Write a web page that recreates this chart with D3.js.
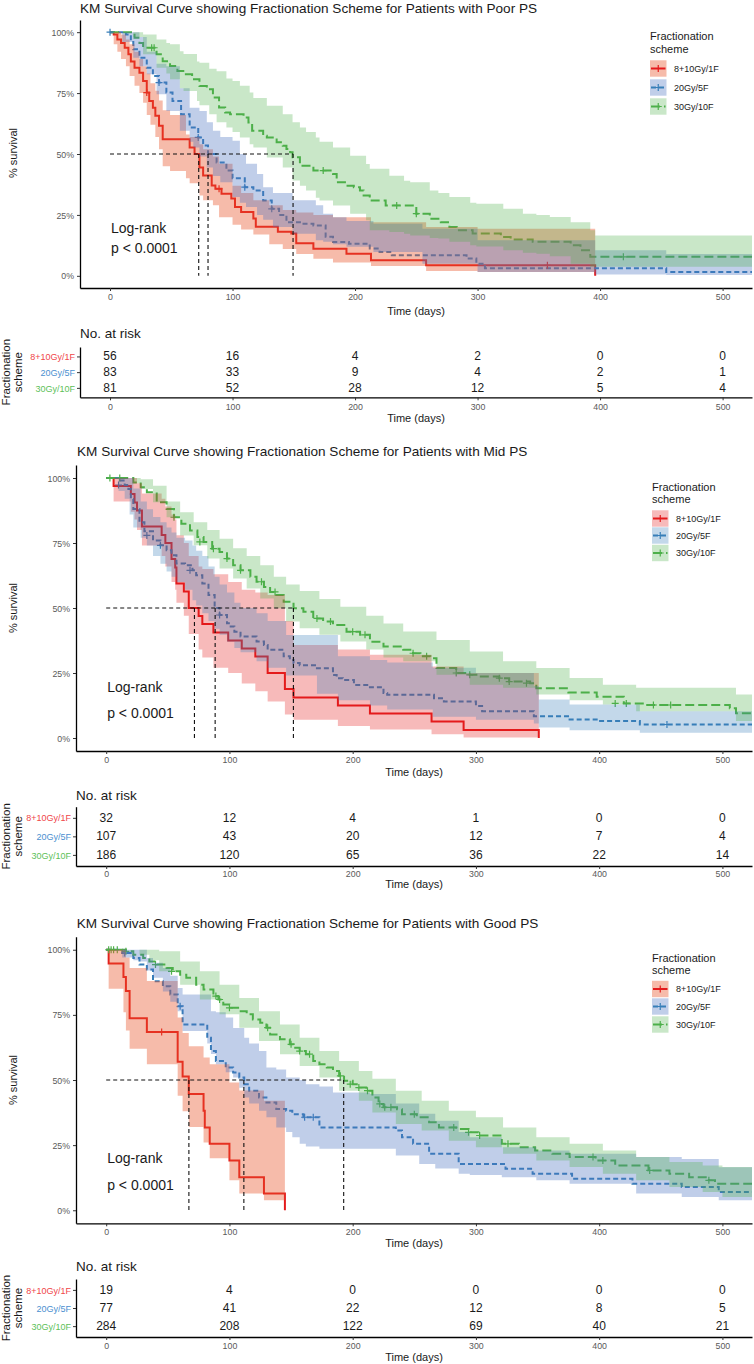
<!DOCTYPE html>
<html><head><meta charset="utf-8">
<script src="https://cdn.jsdelivr.net/npm/d3@7"></script>
<style>body{margin:0;background:#fff}svg{display:block;font-family:"Liberation Sans",Arial,sans-serif}</style>
</head><body><svg id="c" width="754" height="1364"></svg>
<script>
const groups = ["8+10Gy/1F", "20Gy/5F", "30Gy/10F"];
const timeTicks = [0, 100, 200, 300, 400, 500];
const survTicks = [0, 25, 50, 75, 100];
const titles = ["KM Survival Curve showing Fractionation Scheme for Patients with Poor PS",
  "KM Survival Curve showing Fractionation Scheme for Patients with Mid PS",
  "KM Survival Curve showing Fractionation Scheme for Patients with Good PS"];

// ---------- Poor PS ----------
const poorRed = [[0,100],[3,99],[6,97],[9,95.6],[12,93.6],[15,90.9],[17,88],[20,85.4],[24,83.4],[27,80],[30,75.2],[32,71.8],[35,69],[37,65.7],[40,61.6],[43,56.1],[65,52.7],[69,50],[73,44.5],[76,41.2],[83,37.1],[86,35.7],[91,33.7],[99,31.7],[102,28.2],[107,26.2],[117,23.5],[119,20.1],[137,18.1],[148,17.4],[152,13.4],[166,11.1],[193,9.1],[213,6.4],[258,4.3],[396,0]];
const poorRedCI = [[0,100,100],[3,95,100],[6,92,100],[9,89,99],[13,86,97],[16,82,95],[20,78,92],[24,75,89],[27,71,86],[30,66,83],[33,62,79],[37,57,76],[40,52,72],[43,45,68],[49,43,66],[62,40,58],[65,38,57],[73,33,54],[76,31,52],[84,29,49],[89,24,46],[100,21,37],[107,19,34],[117,17,31],[130,13,29],[141,11,27],[152,9,26],[166,7,25],[182,5.5,24],[213,4,22],[258,2,20],[300,1.6,19.3],[396,1.6,19.3]];
const poorRedCens = [[30,75.2],[89,35.7],[357,4.3]];
const poorBlue = [[0,100],[13,99],[17,96],[19,93],[24,89.5],[30,85.4],[35,82],[40,79.3],[46,75.2],[51,71.8],[58,66.3],[65,60.9],[72,56.8],[76,53.5],[80,50],[87,46.5],[95,43.2],[100,40],[110,36.4],[117,35],[125,30.9],[132,27.5],[138,25],[144,22],[155,21.4],[166,20.7],[176,16],[182,13.9],[195,13.2],[212,11.2],[220,9.8],[230,8.4],[291,7.1],[299,5],[306,3.1],[454,1.6],[530,1.6]];
const poorBlueCI = [[0,100,100],[10,96,100],[19,89.5,100],[24,86,98],[30,82.7,92],[38,74.5,87],[46,67.7,86],[57,59.5,77],[65,55,69],[68,52.7,69],[73,49,67.7],[79,44.5,63],[84,41,59.5],[90,38.4,57],[100,32.3,55.4],[106,30,50],[111,28.2,46],[120,25,41.8],[125,23,36.4],[133,20,34],[149,17.3,31],[168,14.6,29],[174,14,25.5],[182,13,24],[193,11.9,22.5],[215,9.8,21.4],[255,5,19.3],[300,1.6,14.6],[396,0.5,10.5],[454,0.3,9],[530,0.3,9]];
const poorBlueCens = [[0,100],[40,79.3],[72,56.8],[110,36.4],[132,27.5]];
const poorGreen = [[0,100],[20,97.7],[24,95.6],[27,93.6],[38,90.9],[43,88.1],[49,86.1],[55,84.1],[61,82.7],[67,80.7],[73,77.9],[79,76.6],[84,73.2],[89,69.1],[94,67],[98,66.3],[109,65],[113,62.9],[116,59.5],[125,57.5],[128,56.8],[136,54.8],[141,53.4],[144,52.1],[147,50.7],[149,48.7],[155,45.2],[166,43.2],[182,41.8],[185,38.4],[193,37],[199,36.4],[204,35],[207,33],[212,30.9],[225,28.9],[250,25.5],[261,23.4],[270,22],[277,20],[283,18.7],[296,17.4],[319,15.9],[327,14.9],[345,14],[376,12.5],[384,10.5],[392,7.8],[530,7.8]];
const poorGreenCI = [[0,100,100],[19,98,100],[27,90.9,99],[38,85.4,97],[46,83,95.6],[49,80.7,95],[57,77,92.2],[60,75.9,91],[71,71.8,88],[73,70,87.5],[81,66.3,85],[87,63,84],[95,60.9,81],[100,59,80],[106,56.8,78],[114,54,75.2],[117,52.7,73],[128,48.6,69.8],[141,44.5,66.3],[149,39.1,63],[155,37,60.9],[160,35,59],[168,32,56.8],[171,30.9,55],[182,28.9,52.7],[196,25.5,49.3],[209,22.8,45.9],[212,18.7,43.9],[228,18,41.1],[240,17.3,39],[245,16.5,38.4],[261,15.5,35],[268,15.3,34],[277,14,32.3],[294,12.5,30],[299,12,29.6],[321,10.5,27.5],[337,9.5,25.5],[348,9.1,25],[359,8,24.1],[376,5,22],[392,3.7,18.7],[396,3.7,16.6],[530,3.7,16.6]];
const poorGreenCens = [[34,93.6],[36,93.6],[174,43.2],[234,28.9],[250,25.5],[419,7.8]];
const poorMedians = [72.4, 80, 149.4];
const poorRisk = [[56,16,4,2,0,0],[83,33,9,4,2,1],[81,52,28,12,5,4]];

// ---------- Mid PS ----------
const midRed = [[0,100],[6,96.9],[20,93.8],[23,90.6],[25,87.5],[29,81.3],[45,78.1],[48,75],[53,68.8],[56,65.6],[57,59.4],[63,56.3],[67,50],[75,46.9],[78,43.8],[87,40.6],[99,37.5],[110,34.4],[121,31.3],[131,25],[145,18.8],[152,15.6],[188,12.5],[214,9.4],[264,6.3],[290,3.1],[351,0]];
const midRedCI = [[0,100,100],[6,91,100],[20,87,100],[23,84,100],[25,80,98],[29,74,94],[45,70,92],[48,66,89],[53,60,86],[56,57,84],[57,52,78],[63,47,75],[67,40,70],[75,34,66],[78,31,65],[87,27,63],[99,25,60],[110,21,57],[121,18,56],[131,14,55],[145,9,45],[152,7,35.8],[188,4.6,34],[214,3.3,32],[264,1.4,27.5],[290,0.2,25],[351,0.2,25]];
const midRedCens = [];
const midBlue = [[0,100],[10,99],[15,97.3],[18,95.8],[20,91.9],[22,88.1],[27,83],[31,79.5],[38,76],[44,74.1],[49,72.2],[53,70.3],[57,67.1],[64,66.4],[70,64.5],[73,62.6],[78,59.4],[83,55],[88,50],[92,47.3],[98,44.1],[101,42.9],[104,40.9],[109,39],[122,37.1],[128,35.8],[131,33.9],[144,31.4],[149,30],[152,28.8],[157,28],[171,26.8],[184,24.2],[187,23],[192,22.3],[201,20.4],[214,19.5],[225,17.3],[228,16.6],[266,15.3],[274,14],[300,12.3],[305,10.3],[347,8.4],[376,7.1],[399,6.5],[433,5.2],[530,5.2]];
const midBlueCI = [[0,100,100],[10,95,100],[15,92,100],[19,86,100],[22,81,96],[28,77,91],[33,74,88],[38,70,85],[44,67,83],[49,64,81],[53,62,79],[57,60,77],[64,57,76],[70,53,74],[73,51,72],[78,48,70],[83,45,66],[88,42,62],[92,39.7,59],[98,37,56],[104,34.6,52],[109,33,50],[122,29.5,48],[131,27,45],[146,24,39.6],[171,17,39.6],[188,14.5,31.4],[214,12.5,30],[228,11,29],[265,8.2,27],[300,7,25],[347,5.6,20],[351,4,14.8],[376,3,12.9],[433,2,10.3],[530,2,10.3]];
const midBlueCens = [[10,97.3],[33,77.9],[44,74.1],[68,64.5],[92,47.3],[455,5.2]];
const midGreen = [[0,100],[22,98.3],[28,96.4],[33,94.5],[41,90.7],[49,88.1],[55,84.9],[61,82.4],[68,79.8],[74,77.3],[79,75.4],[86,72.8],[92,71.5],[98,69],[103,66.4],[109,64.5],[117,62],[122,60.1],[128,58.1],[133,56.2],[138,55],[144,52.4],[152,49.9],[160,48.6],[168,46],[176,44.8],[184,43.5],[195,40.9],[206,39.7],[214,37],[225,35.2],[241,33.9],[249,32.6],[255,31.4],[263,30.7],[268,26.9],[284,25],[295,24.3],[303,23.7],[319,23],[327,21.7],[344,21.1],[349,19.1],[375,17.5],[398,15.9],[420,13.3],[438,12.7],[506,11.4],[511,9.5],[530,9.5]];
const midGreenCI = [[0,100,100],[22,98,100],[28,95.8,99.5],[38,90.7,97],[49,84.9,91],[60,77.9,86.8],[71,74.1,83],[82,69,80],[92,65.2,76.6],[103,61.3,73],[114,57.5,70],[125,53.7,66.4],[136,49.9,62],[146,44.8,59],[157,42.2,56.5],[173,39.7,53.5],[190,37.1,50.5],[211,34,47],[225,31,44],[241,29.5,41],[268,24.3,37.7],[295,20.5,33.3],[322,19.3,29.5],[349,16.7,26.9],[376,14.5,23.1],[403,12.9,20.5],[430,10.3,19.3],[511,6.5,16.7],[530,6.5,16.7]];
const midGreenCens = [[3,100],[11,100],[55,84.9],[76,75.4],[87,72.8],[98,69],[109,64.5],[126,60.1],[137,56.2],[171,46],[182,44.8],[200,40.9],[210,39.7],[249,32.6],[260,31.4],[284,25],[295,24.3],[319,23],[327,21.7],[341,21.1],[413,13.3],[422,13.3],[444,12.7],[458,12.7]];
const midMedians = [71.6, 88.4, 151.9];
const midRisk = [[32,12,4,1,0,0],[107,43,20,12,7,4],[186,120,65,36,22,14]];

// ---------- Good PS ----------
const goodRed = [[0,100],[2,94.7],[14,89.5],[16,84.2],[19,73.7],[33,68.4],[58,57],[62,51.3],[67,44.6],[79,38.2],[80,31.8],[84,25.5],[100,19.1],[108,12.7],[128,6.4],[145,0]];
const goodRedCI = [[0,100,100],[2,85,100],[14,76,100],[16,69,97],[19,62,93],[33,56,88],[58,44,74],[62,38,68],[67,32,63],[79,26,58.6],[84,20,56],[100,11.5,49],[108,6.4,46],[128,3.8,42],[145,3.8,42]];
const goodRedCens = [[45,68.4]];
const goodBlue = [[0,100],[13,98.7],[22,96.8],[27,94.3],[33,92.4],[38,87.9],[46,86],[52,82.8],[58,78.3],[62,71.3],[82,66.2],[85,61.1],[89,57.3],[97,54.8],[103,52.9],[108,51],[112,48.4],[116,45.9],[124,43.3],[130,41.4],[138,38.9],[146,38.2],[151,36.9],[160,35.7],[173,31.8],[235,30.6],[240,28],[249,25.5],[262,21.7],[286,17.8],[324,15.9],[346,14],[378,12.1],[427,10.2],[467,8.9],[497,7],[530,7]];
const goodBlueCI = [[0,100,100],[13,97,100],[22,96,100],[27,95.5,100],[33,92,96.8],[38,89.2,95],[46,84,93],[52,80,90],[58,76.4,85.3],[62,68.8,82.8],[82,64,82.8],[85,60,76.4],[89,56,76],[97,53,74],[103,51,70],[108,47,70],[112,43.3,66.2],[116,41,64],[124,38.2,61.1],[130,35.7,54.8],[138,31.8,54],[146,30,51],[151,28,51],[157,25.5,50],[162,24.5,48.4],[173,23.6,47.5],[184,23.6,45.2],[214,23.6,44.6],[235,21,41],[254,17.8,37],[267,16,34.4],[286,14,30],[295,13.5,28],[321,12.7,24.2],[349,11.5,22.9],[376,10.2,21.7],[430,6.4,20.4],[467,5.1,19.7],[497,3.8,16.5],[530,3.8,16.5]];
const goodBlueCens = [[15,98.7],[60,78.3],[161,35.7],[168,35.7]];
const goodGreen = [[0,100],[16,99.4],[22,98.1],[30,96.8],[35,95.5],[41,94.3],[49,93],[54,91.7],[60,90.4],[65,89.2],[73,86.6],[79,84.7],[87,82.2],[91,80.9],[95,79],[100,77.7],[108,76.4],[114,75.2],[119,73.2],[125,72],[130,70.1],[133,67.5],[141,65.6],[149,63.7],[152,62.4],[157,61.1],[162,59.9],[168,57.3],[173,56],[179,54.8],[184,53.5],[189,51.6],[193,49.7],[200,48.4],[205,47.1],[211,45.9],[216,43.3],[221,40.8],[225,39.5],[236,38.8],[240,36.9],[252,35.7],[262,33.8],[270,31.8],[284,31.2],[294,29.9],[302,28.7],[321,25.5],[335,24.2],[348,22.9],[362,21.7],[376,20.4],[397,19.1],[413,17.2],[440,15.3],[457,14],[473,12.7],[489,11.5],[494,10.2],[530,10.2]];
const goodGreenCI = [[0,100,100],[27,98.1,100],[35,96,100],[43,91.7,99.4],[60,86.6,95.5],[76,80.9,91.7],[92,75.2,86.6],[108,70.1,81.5],[124,65,76.4],[141,59.9,71.3],[157,55.4,66.2],[173,51,61.1],[189,45.9,57.3],[205,42,53.5],[216,37.5,50.5],[235,33.1,45.9],[256,30.6,42],[278,26.7,38.2],[300,24.2,35.7],[322,21.7,31.8],[349,19.1,28],[376,16.6,25.5],[403,14,22.9],[430,11.5,20.4],[457,8.9,18.5],[484,7,17.2],[500,5.1,16.6],[530,5.1,16.6]];
const goodGreenCens = [[2,100],[4,100],[6,100],[9,100],[16,99.4],[40,94.3],[53,91.7],[89,82.2],[92,80.9],[100,77.7],[131,70.1],[150,63.7],[157,61.1],[165,59.9],[190,51.6],[198,48.4],[205,47.1],[212,45.9],[222,40.8],[226,39.5],[231,39.5],[250,36.9],[282,31.8],[294,29.9],[303,28.7],[326,25.5],[395,20.4],[403,19.1],[441,15.3],[489,11.5]];
const goodMedians = [67.1, 111.7, 192.7];
const goodRisk = [[19,4,0,0,0,0],[77,41,22,12,8,5],[284,208,122,69,40,21]];

// ---------- styles / layout ----------
const lineColors = ["#E41A1C", "#377EB8", "#4DAF4A"];
const labelColors = ["#F0464A", "#4A8FD0", "#5CBF58"];
const dashes = [null, "5,3", "9,4"];
const fillsA = ["#E8552A", "#4A72C0", "#4DAF4A"], opA = [0.4, 0.35, 0.3];
const fillsB = ["#E41A1C", "#377EB8", "#4DAF4A"], opB = [0.3, 0.3, 0.3];

const panels = [
  {curves:[poorRed,poorBlue,poorGreen], cis:[poorRedCI,poorBlueCI,poorGreenCI], cens:[poorRedCens,poorBlueCens,poorGreenCens], medians:poorMedians, risk:poorRisk, fills:fillsA, op:opA,
   L:{left:80,right:752,top:20,bottom:288,titleX:80,titleY:8,xTickY:297,xTitleY:311,yLabY:153,legX:650,legTitleY:[36,49],legKeyY:[68.5,87.5,106.5],logY:[228,248],
      tab:{noRiskY:333,top:347,bottom:397.3,tickY:406.7,titleY:418.3}}},
  {curves:[midRed,midBlue,midGreen], cis:[midRedCI,midBlueCI,midGreenCI], cens:[midRedCens,midBlueCens,midGreenCens], medians:midMedians, risk:midRisk, fills:fillsB, op:opB,
   L:{left:76,right:752,top:465,bottom:751,titleX:77,titleY:451,xTickY:760,xTitleY:772.3,yLabY:608,legX:652,legTitleY:[487,499],legKeyY:[518.5,535.5,553],logY:[686.7,713.3],
      tab:{noRiskY:795,top:806.7,bottom:866,tickY:874,titleY:884}}},
  {curves:[goodRed,goodBlue,goodGreen], cis:[goodRedCI,goodBlueCI,goodGreenCI], cens:[goodRedCens,goodBlueCens,goodGreenCens], medians:goodMedians, risk:goodRisk, fills:fillsA, op:opA,
   L:{left:76,right:752,top:936.7,bottom:1223.3,titleX:76.7,titleY:923.3,xTickY:1231.7,xTitleY:1243.3,yLabY:1080,legX:652,legTitleY:[958,970],legKeyY:[989,1006.5,1024.5],logY:[1158.3,1185],
      tab:{noRiskY:1266.7,top:1279,bottom:1337,tickY:1346,titleY:1357}}}
];

const svg = d3.select("#c");
const TXT = "#1a1a1a", TICK = "#5a5a5a";

function plusPath(cx, cy, r) { return `M${cx-r},${cy}H${cx+r}M${cx},${cy-r}V${cy+r}`; }

panels.forEach((p, pi) => {
  const L = p.L;
  const x = d3.scaleLinear().domain([-24.5, 524]).range([L.left, L.right]);
  const y = d3.scaleLinear().domain([-5, 105]).range([L.bottom, L.top]);
  const g = svg.append("g");
  const clipId = "clip" + pi;
  svg.append("clipPath").attr("id", clipId).append("rect")
    .attr("x", L.left).attr("y", L.top).attr("width", L.right - L.left).attr("height", L.bottom - L.top);
  const plot = g.append("g").attr("clip-path", `url(#${clipId})`);
  const line = d3.line().curve(d3.curveStepAfter).x(d => x(d[0])).y(d => y(d[1]));
  const area = d3.area().curve(d3.curveStepAfter).x(d => x(d[0])).y0(d => y(d[1])).y1(d => y(d[2]));

  p.curves.forEach((c, i) => plot.append("path").attr("d", line(c)).attr("fill", "none")
    .attr("stroke", lineColors[i]).attr("stroke-width", 2).attr("stroke-dasharray", dashes[i]));
  p.cens.forEach((c, i) => c.forEach(d => plot.append("path").attr("d", plusPath(x(d[0]), y(d[1]), 3.5))
    .attr("stroke", lineColors[i]).attr("stroke-width", 1.2).attr("fill", "none")));
  p.cis.forEach((c, i) => plot.append("path").attr("d", area(c)).attr("fill", p.fills[i]).attr("fill-opacity", p.op[i]));

  // median lines
  const mMax = d3.max(p.medians);
  plot.append("line").attr("x1", x(0)).attr("x2", x(mMax)).attr("y1", y(50)).attr("y2", y(50))
    .attr("stroke", "#111").attr("stroke-width", 1.1).attr("stroke-dasharray", "4,3");
  p.medians.forEach(m => plot.append("line").attr("x1", x(m)).attr("x2", x(m)).attr("y1", y(50)).attr("y2", y(0))
    .attr("stroke", "#111").attr("stroke-width", 1.1).attr("stroke-dasharray", "4,3"));

  // log-rank text
  g.append("text").attr("x", x(0) + 1).attr("y", L.logY[0]).attr("dominant-baseline", "central")
    .attr("font-size", 14).attr("fill", TXT).text("Log-rank");
  g.append("text").attr("x", x(0) + 1).attr("y", L.logY[1]).attr("dominant-baseline", "central")
    .attr("font-size", 14).attr("fill", TXT).text("p < 0.0001");

  // axes
  const ax = g.append("g").attr("transform", `translate(0,${L.bottom})`)
    .call(d3.axisBottom(x).tickValues(timeTicks).tickSize(3).tickSizeOuter(0));
  const ay = g.append("g").attr("transform", `translate(${L.left},0)`)
    .call(d3.axisLeft(y).tickValues(survTicks).tickFormat(d => d + "%").tickSize(3).tickSizeOuter(0));
  [ax, ay].forEach(a => {
    a.select(".domain").attr("stroke", "#000").attr("stroke-width", 1.3);
    a.selectAll(".tick line").attr("stroke", "#333").attr("stroke-width", 1);
    a.selectAll(".tick text").attr("font-size", 8.8).attr("fill", TICK).attr("font-family", null);
  });
  ax.selectAll(".tick text").attr("y", L.xTickY - L.bottom).attr("dy", "0.35em");
  ay.selectAll(".tick text").attr("dy", "0.35em");

  g.append("text").attr("x", (L.left + L.right) / 2).attr("y", L.xTitleY).attr("text-anchor", "middle")
    .attr("dominant-baseline", "central").attr("font-size", 11).attr("fill", TXT).text("Time (days)");
  g.append("text").attr("transform", `translate(13,${L.yLabY}) rotate(-90)`).attr("text-anchor", "middle")
    .attr("dominant-baseline", "central").attr("font-size", 11).attr("fill", TXT).text("% survival");
  g.append("text").attr("x", L.titleX).attr("y", L.titleY).attr("dominant-baseline", "central")
    .attr("font-size", 13.6).attr("fill", TXT).text(titles[pi]);

  // legend
  g.append("text").attr("x", L.legX).attr("y", L.legTitleY[0]).attr("dominant-baseline", "central")
    .attr("font-size", 11).attr("fill", TXT).text("Fractionation");
  g.append("text").attr("x", L.legX).attr("y", L.legTitleY[1]).attr("dominant-baseline", "central")
    .attr("font-size", 11).attr("fill", TXT).text("scheme");
  groups.forEach((name, i) => {
    const cy = L.legKeyY[i];
    g.append("rect").attr("x", L.legX).attr("y", cy - 8.2).attr("width", 16.5).attr("height", 16.4)
      .attr("fill", p.fills[i]).attr("fill-opacity", p.op[i]);
    g.append("line").attr("x1", L.legX + 1).attr("x2", L.legX + 15.5).attr("y1", cy).attr("y2", cy)
      .attr("stroke", lineColors[i]).attr("stroke-width", 2).attr("stroke-dasharray", dashes[i]);
    g.append("path").attr("d", plusPath(L.legX + 8.25, cy, 3.5)).attr("stroke", lineColors[i]).attr("stroke-width", 1.2);
    g.append("text").attr("x", L.legX + 24).attr("y", cy).attr("dominant-baseline", "central")
      .attr("font-size", 9).attr("fill", TXT).text(name);
  });

  // risk table
  const T = L.tab;
  const ty = d3.scalePoint().domain(groups).range([T.top, T.bottom]).padding(0.6);
  g.append("text").attr("x", L.left).attr("y", T.noRiskY).attr("dominant-baseline", "central")
    .attr("font-size", 13.5).attr("fill", TXT).text("No. at risk");
  p.risk.forEach((row, i) => row.forEach((v, j) => {
    g.append("text").attr("x", x(timeTicks[j])).attr("y", ty(groups[i])).attr("text-anchor", "middle")
      .attr("dominant-baseline", "central").attr("font-size", 12).attr("fill", TXT).text(v);
  }));
  const tyAx = g.append("g").attr("transform", `translate(${L.left},0)`)
    .call(d3.axisLeft(ty).tickSize(3).tickSizeOuter(0));
  const txAx = g.append("g").attr("transform", `translate(0,${T.bottom})`)
    .call(d3.axisBottom(x).tickValues(timeTicks).tickSize(3).tickSizeOuter(0));
  [tyAx, txAx].forEach(a => {
    a.select(".domain").attr("stroke", "#000").attr("stroke-width", 1.3);
    a.selectAll(".tick line").attr("stroke", "#333").attr("stroke-width", 1);
    a.selectAll(".tick text").attr("font-size", 8.8).attr("fill", TICK).attr("font-family", null);
  });
  txAx.selectAll(".tick text").attr("y", T.tickY - T.bottom).attr("dy", "0.35em");
  tyAx.selectAll(".tick text").attr("dy", "0.35em").attr("x", -5).attr("font-size", 9)
    .attr("fill", (d, i) => labelColors[i]);
  g.append("text").attr("x", (L.left + L.right) / 2).attr("y", T.titleY).attr("text-anchor", "middle")
    .attr("dominant-baseline", "central").attr("font-size", 11).attr("fill", TXT).text("Time (days)");
  const cyT = (T.top + T.bottom) / 2;
  g.append("text").attr("transform", `translate(6,${cyT}) rotate(-90)`).attr("text-anchor", "middle")
    .attr("dominant-baseline", "central").attr("font-size", 11.5).attr("fill", TXT).text("Fractionation");
  g.append("text").attr("transform", `translate(17.5,${cyT}) rotate(-90)`).attr("text-anchor", "middle")
    .attr("dominant-baseline", "central").attr("font-size", 11.5).attr("fill", TXT).text("scheme");
});
</script>
</body></html>
